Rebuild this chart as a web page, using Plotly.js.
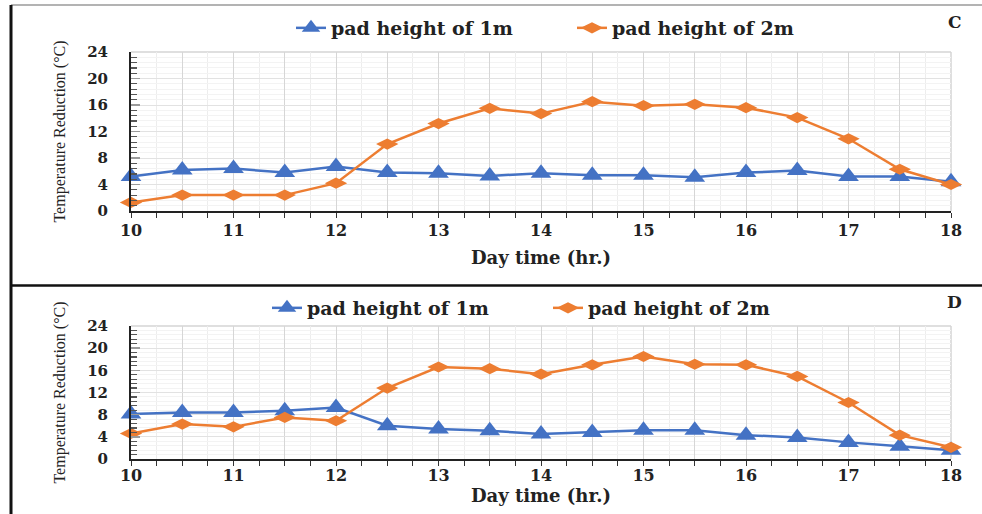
<!DOCTYPE html>
<html>
<head>
<meta charset="utf-8">
<script src="https://cdn.plot.ly/plotly-3.0.1.min.js"></script>
<style>
  html, body { margin: 0; padding: 0; background: #ffffff; }
  #chart { width: 982px; height: 514px; }
</style>
</head>
<body>
<div id="chart"></div>
<script>
// Day time (hr.) sampled every half hour
const hours = [10, 10.5, 11, 11.5, 12, 12.5, 13, 13.5, 14, 14.5, 15, 15.5, 16, 16.5, 17, 17.5, 18];

// Panel C: temperature reduction (°C)
const padC1m = [5.2, 6.2, 6.4, 5.8, 6.7, 5.8, 5.7, 5.3, 5.7, 5.4, 5.4, 5.1, 5.8, 6.1, 5.2, 5.2, 4.4];
const padC2m = [1.3, 2.4, 2.4, 2.4, 4.2, 10.1, 13.2, 15.5, 14.7, 16.5, 15.9, 16.1, 15.6, 14.1, 10.9, 6.3, 4.0];

// Panel D: temperature reduction (°C)
const padD1m = [8.1, 8.4, 8.4, 8.7, 9.3, 6.0, 5.4, 5.1, 4.5, 4.8, 5.2, 5.2, 4.3, 3.9, 3.0, 2.3, 1.6];
const padD2m = [4.6, 6.3, 5.8, 7.5, 6.9, 12.8, 16.6, 16.3, 15.3, 17.0, 18.5, 17.1, 17.0, 14.9, 10.2, 4.3, 2.1];

const seriesNames = ['pad height of 1m', 'pad height of 2m'];
const panelLabels = ['C', 'D'];

// Major x positions every half hour, labelled on the hour only
const xTickVals = [10, 10.5, 11, 11.5, 12, 12.5, 13, 13.5, 14, 14.5, 15, 15.5, 16, 16.5, 17, 17.5, 18];
const xTickText = ['10', '', '11', '', '12', '', '13', '', '14', '', '15', '', '16', '', '17', '', '18'];
const yTickVals = [0, 4, 8, 12, 16, 20, 24];

const xTitle = 'Day time (hr.)';
const yTitle = 'Temperature Reduction (°C)';

const BLUE = '#4472C4';
const ORANGE = '#ED7D31';
const W = 982, H = 514;
const px = v => v / W;
const py = v => 1 - v / H;

const serifBold = { family: 'DejaVu Serif', size: 16, color: '#222222', weight: 'bold' };

function line1m(x, y, xa, ya, lg) {
  return {
    x: x, y: y, xaxis: xa, yaxis: ya, legend: lg, cliponaxis: false,
    type: 'scatter', mode: 'lines+markers', name: seriesNames[0],
    line: { color: BLUE, width: 2.5 },
    marker: { symbol: 'triangle-up', size: 18, color: BLUE }
  };
}
function line2m(x, y, xa, ya, lg) {
  return {
    x: x, y: y, xaxis: xa, yaxis: ya, legend: lg, cliponaxis: false,
    type: 'scatter', mode: 'lines+markers', name: seriesNames[1],
    line: { color: ORANGE, width: 2.5 },
    marker: { symbol: 'diamond-wide', size: 16, color: ORANGE }
  };
}

const traces = [
  line1m(hours, padC1m, 'x', 'y', 'legend'),
  line2m(hours, padC2m, 'x', 'y', 'legend'),
  line1m(hours, padD1m, 'x2', 'y2', 'legend2'),
  line2m(hours, padD2m, 'x2', 'y2', 'legend2')
];

function xAxis(anchor, standoff, labelShift) {
  return {
    domain: [px(131), px(951)], anchor: anchor,
    range: [10, 18], tickmode: 'array', tickvals: xTickVals, ticktext: xTickText,
    ticks: 'outside', ticklen: 5, tickwidth: 1, tickcolor: '#333333',
    showline: true, linecolor: '#222222', linewidth: 1.5,
    showgrid: true, gridcolor: '#d6d6d6', gridwidth: 1, zeroline: false,
    minor: { dtick: 0.25, tick0: 10, ticks: 'outside', ticklen: 5, tickwidth: 1, tickcolor: '#333333',
             showgrid: true, gridcolor: '#ededed', gridwidth: 1 },
    tickfont: serifBold,
    ticklabelstandoff: labelShift,
    title: { text: xTitle, font: { family: 'DejaVu Serif', size: 18, color: '#222222', weight: 'bold' }, standoff: standoff },
    automargin: false, fixedrange: true
  };
}
function yAxis(anchor, top, bottom) {
  return {
    domain: [py(bottom), py(top)], anchor: anchor,
    range: [0, 24], tickmode: 'array', tickvals: yTickVals,
    ticks: 'inside', ticklen: 9, tickwidth: 1.5, tickcolor: '#9a9a9a',
    showline: true, linecolor: '#222222', linewidth: 2,
    showgrid: true, gridcolor: '#e2e2e2', gridwidth: 1, zeroline: false,
    minor: { dtick: 0.8, tick0: 0, ticks: 'inside', ticklen: 6, tickwidth: 1.2, tickcolor: '#555555',
             showgrid: true, gridcolor: '#f3f3f3', gridwidth: 1 },
    tickfont: { family: 'DejaVu Serif', size: 15, color: '#222222', weight: 'bold' },
    ticklabelstandoff: 18,
    title: { text: yTitle, font: { family: 'Liberation Serif', size: 16, color: '#222222' }, standoff: 18 },
    automargin: false, fixedrange: true
  };
}

function plotBorder(xref, yref) {
  return [
    { type: 'line', xref: xref + ' domain', yref: yref + ' domain', x0: 0, x1: 1, y0: 1, y1: 1,
      line: { color: '#d4d4d4', width: 1.5 }, layer: 'below' },
    { type: 'line', xref: xref + ' domain', yref: yref + ' domain', x0: 1, x1: 1, y0: 0, y1: 1,
      line: { color: '#d4d4d4', width: 1.5 }, layer: 'below' }
  ];
}

function legendAt(xPx, yPx) {
  return {
    orientation: 'h', x: px(xPx), y: py(yPx), xanchor: 'left', yanchor: 'middle',
    font: { family: 'DejaVu Serif', size: 19, color: '#222222', weight: 'bold' },
    bgcolor: 'rgba(0,0,0,0)', borderwidth: 0, entrywidth: 236, entrywidthmode: 'pixels',
    itemclick: false, itemdoubleclick: false
  };
}

function panelLabel(text, xPx, yPx) {
  return { xref: 'paper', yref: 'paper', x: px(xPx), y: py(yPx), xanchor: 'center', yanchor: 'middle',
           text: text, showarrow: false,
           font: { family: 'DejaVu Serif', size: 17, color: '#222222', weight: 'bold' } };
}

const layout = {
  width: W, height: H, autosize: false,
  margin: { l: 0, r: 0, t: 0, b: 0, pad: 0 },
  paper_bgcolor: '#ffffff', plot_bgcolor: '#ffffff',
  showlegend: true,
  xaxis: xAxis('y', 12, -1),
  yaxis: yAxis('x', 52, 211),
  xaxis2: xAxis('y2', 4, -4),
  yaxis2: yAxis('x2', 326, 459),
  legend: legendAt(291, 28),
  legend2: legendAt(267, 308),
  annotations: [
    panelLabel(panelLabels[0], 955, 22),
    panelLabel(panelLabels[1], 954, 302)
  ],
  shapes: [
    // outer frame: top rule, left rule and the divider between the panels
    { type: 'line', xref: 'paper', yref: 'paper', x0: px(11), x1: 1, y0: py(5), y1: py(5),
      line: { color: '#9a9a9a', width: 1.5 } },
    { type: 'line', xref: 'paper', yref: 'paper', x0: px(11), x1: px(11), y0: 0, y1: py(5),
      line: { color: '#111111', width: 3 } },
    { type: 'line', xref: 'paper', yref: 'paper', x0: px(11), x1: 1, y0: py(285.5), y1: py(285.5),
      line: { color: '#111111', width: 2.5 } }
  ].concat(plotBorder('x', 'y'), plotBorder('x2', 'y2')),
  hovermode: false
};

Plotly.newPlot('chart', traces, layout, { staticPlot: true, displayModeBar: false });
</script>
</body>
</html>
